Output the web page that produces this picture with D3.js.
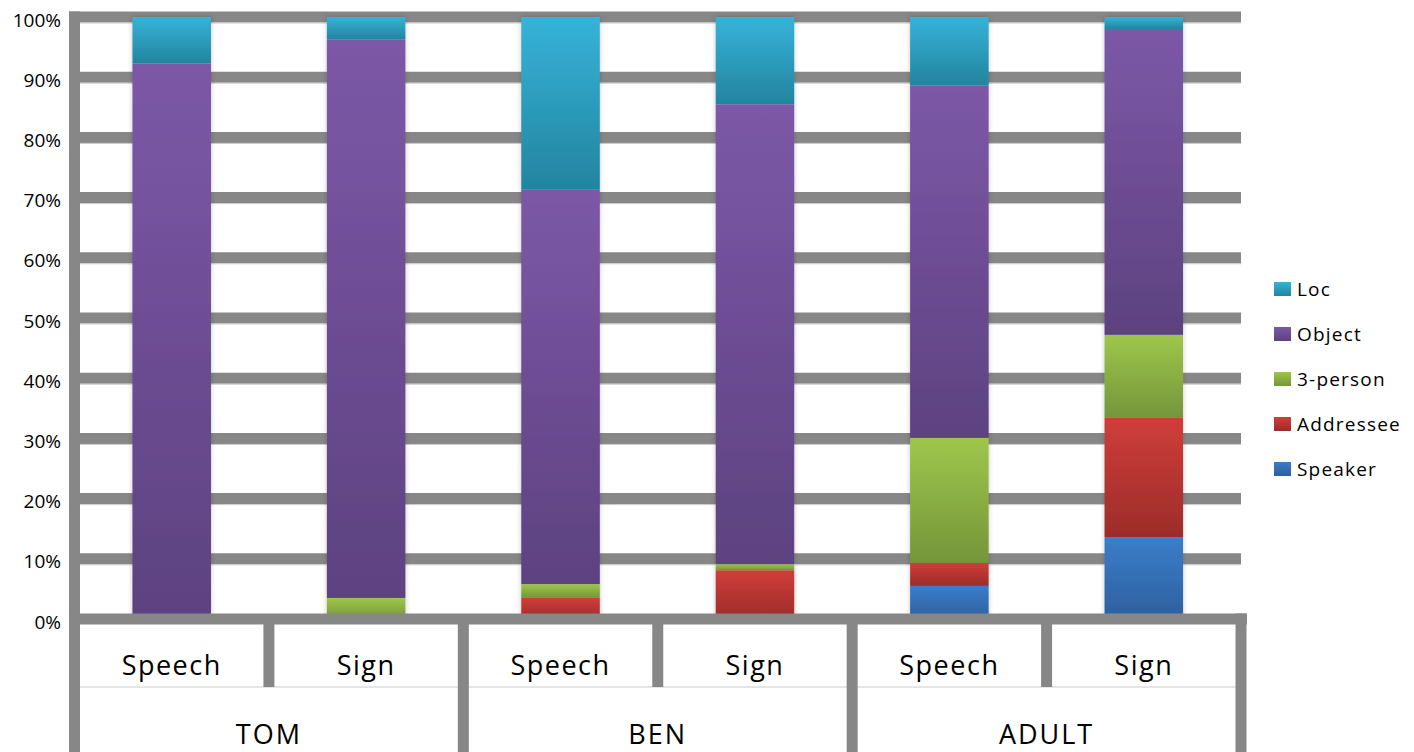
<!DOCTYPE html>
<html>
<head>
<meta charset="utf-8">
<script src="https://cdn.jsdelivr.net/npm/d3@7"></script>
<style>
  html, body { margin: 0; padding: 0; background: #fff; }
  svg { display: block; }
  text { font-family: "Open Sans", "DejaVu Sans", sans-serif; fill: #000; }
</style>
</head>
<body>
<svg id="chart" width="1414" height="752"></svg>
<script>
// ---- data ----
const categories = ["Speech", "Sign", "Speech", "Sign", "Speech", "Sign"];
const groups = ["TOM", "BEN", "ADULT"];
const seriesNames = ["Speaker", "Addressee", "3-person", "Object", "Loc"];
const speaker     = [0, 0, 0, 0, 5.5, 13.6];
const addressee   = [0, 0, 3.5, 8.1, 3.8, 19.8];
const thirdPerson = [0, 3.5, 2.3, 1.0, 20.8, 13.8];
const object      = [92.3, 92.8, 65.5, 76.4, 58.5, 50.8];
const loc         = [7.7, 3.7, 28.7, 14.5, 11.4, 2.0];
const yTicks = [0, 10, 20, 30, 40, 50, 60, 70, 80, 90, 100];
const yTickLabels = ["0%", "10%", "20%", "30%", "40%", "50%", "60%", "70%", "80%", "90%", "100%"];

// ---- styles ----
const seriesColors = {
  "Speaker":   ["#3b7dca", "#2d609e"],
  "Addressee": ["#d03e3a", "#9c2c2a"],
  "3-person":  ["#9ec64b", "#75953a"],
  "Object":    ["#7c58a7", "#5d4280"],
  "Loc":       ["#36b3d8", "#23849f"]
};
const gridColor = "#878787";

const rows = categories.map((c, i) => ({
  idx: i, cat: c, group: groups[Math.floor(i / 2)],
  "Speaker": speaker[i], "Addressee": addressee[i], "3-person": thirdPerson[i],
  "Object": object[i], "Loc": loc[i]
}));

const svg = d3.select("#chart");
const defs = svg.append("defs");
seriesNames.forEach((s, k) => {
  const g = defs.append("linearGradient").attr("id", "grad" + k)
    .attr("x1", 0).attr("y1", 0).attr("x2", 0).attr("y2", 1);
  g.append("stop").attr("offset", "0%").attr("stop-color", seriesColors[s][0]);
  g.append("stop").attr("offset", "100%").attr("stop-color", seriesColors[s][1]);
});
const f = defs.append("filter").attr("id", "shadow")
  .attr("x", "-20%").attr("y", "-5%").attr("width", "140%").attr("height", "110%");
f.append("feDropShadow").attr("dx", 0).attr("dy", 0).attr("stdDeviation", 2.5)
  .attr("flood-color", "#000").attr("flood-opacity", 0.22);

const left = 74.5, right = 1241;
const x = d3.scaleBand().domain(d3.range(categories.length)).range([left, right]).padding(0);
const xg = d3.scaleBand().domain(groups).range([left, right]).padding(0);
const y = d3.scaleLinear().domain([0, 100]).range([619, 17]);
const barW = x.bandwidth() * 0.404;
const lw = 11;

// gridlines (except baseline)
svg.append("g").selectAll("line").data(yTicks.filter(t => t > 0)).join("line")
  .attr("x1", 69).attr("x2", right)
  .attr("y1", d => y(d)).attr("y2", d => y(d))
  .attr("stroke", gridColor).attr("stroke-width", lw);
svg.append("g").selectAll("line").data(yTicks.filter(t => t > 0)).join("line")
  .attr("x1", 69).attr("x2", right)
  .attr("y1", d => y(d) + lw / 2 + 0.5).attr("y2", d => y(d) + lw / 2 + 0.5)
  .attr("stroke", "#c8c8c8").attr("stroke-width", 1);

// thin separator between label rows
svg.append("line").attr("x1", left).attr("x2", right).attr("y1", 687).attr("y2", 687)
  .attr("stroke", "#dcdcdc").attr("stroke-width", 1.5);

// bars
const stack = d3.stack().keys(seriesNames);
const stacked = stack(rows);
const barG = svg.append("g").selectAll("g.bar").data(rows).join("g")
  .attr("class", "bar").attr("filter", "url(#shadow)");
barG.each(function(r, i) {
  const g = d3.select(this);
  stacked.forEach((layer, k) => {
    const seg = layer[i];
    if (seg[1] - seg[0] <= 0) return;
    g.append("rect")
      .attr("x", x(i) + (x.bandwidth() - barW) / 2)
      .attr("width", barW)
      .attr("y", y(seg[1]))
      .attr("height", y(seg[0]) - y(seg[1]))
      .attr("fill", "url(#grad" + k + ")");
  });
});

// baseline & category axis frame
const axisG = svg.append("g");
axisG.append("line").attr("x1", 69).attr("x2", right + lw / 2 + 0.5)
  .attr("y1", y(0)).attr("y2", y(0)).attr("stroke", gridColor).attr("stroke-width", lw);
axisG.append("line").attr("x1", left).attr("x2", left)
  .attr("y1", y(100) - lw / 2).attr("y2", 752).attr("stroke", gridColor).attr("stroke-width", lw);
xg.domain().forEach((gname, gi) => {
  if (gi === 0) return;
  const xx = xg(gname);
  axisG.append("line").attr("x1", xx).attr("x2", xx)
    .attr("y1", y(0)).attr("y2", 752).attr("stroke", gridColor).attr("stroke-width", lw);
});
axisG.append("line").attr("x1", right).attr("x2", right)
  .attr("y1", y(0) - lw / 2).attr("y2", 752).attr("stroke", gridColor).attr("stroke-width", lw);
d3.range(categories.length).filter(i => i % 2 === 1).forEach(i => {
  const xx = x(i);
  axisG.append("line").attr("x1", xx).attr("x2", xx)
    .attr("y1", y(0)).attr("y2", 687).attr("stroke", gridColor).attr("stroke-width", lw);
});

// y tick labels
svg.append("g").selectAll("text").data(yTicks).join("text")
  .attr("x", 61).attr("y", d => y(d) + 3)
  .attr("dy", "0.35em").attr("text-anchor", "end")
  .style("font-size", "19px")
  .text((d, i) => yTickLabels[i]);

// category labels
svg.append("g").selectAll("text").data(rows).join("text")
  .attr("x", d => x(d.idx) + x.bandwidth() / 2).attr("y", 675)
  .attr("text-anchor", "middle")
  .style("font-size", "27px").style("letter-spacing", "1.5px")
  .text(d => d.cat);
svg.append("g").selectAll("text").data(groups).join("text")
  .attr("x", d => xg(d) + xg.bandwidth() / 2).attr("y", 744)
  .attr("text-anchor", "middle")
  .style("font-size", "27px").style("letter-spacing", "2px")
  .text(d => d);

// legend (top to bottom: Loc ... Speaker)
const legendOrder = seriesNames.slice().reverse();
const lg = svg.append("g").selectAll("g").data(legendOrder).join("g")
  .attr("transform", (d, i) => `translate(1274, ${289 + i * 45})`);
lg.append("rect").attr("x", 0).attr("y", -7).attr("width", 17).attr("height", 14)
  .attr("fill", d => "url(#grad" + seriesNames.indexOf(d) + ")");
lg.append("text").attr("x", 23).attr("y", 0).attr("dy", "0.35em")
  .style("font-size", "19px").style("letter-spacing", "1.2px")
  .text(d => d);
</script>
</body>
</html>
